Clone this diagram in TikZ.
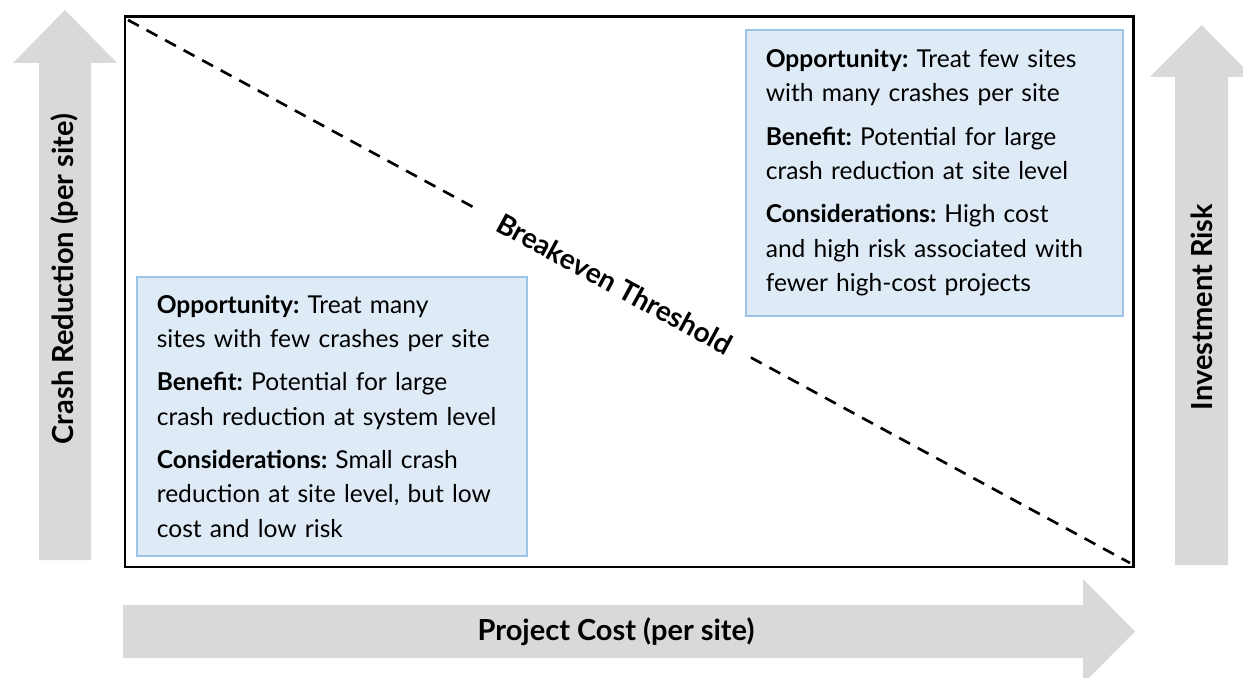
\documentclass[tikz,border=0pt]{standalone}
\usepackage{fontspec}
\setmainfont{Lato}
\usetikzlibrary{calc}
\frenchspacing

\definecolor{arrowgray}{HTML}{D9D9D9}
\definecolor{boxfill}{HTML}{DEEBF7}
\definecolor{boxline}{HTML}{9DC3E6}

\tikzset{
    infobox/.style={draw=boxline, line width=0.9pt, fill=boxfill, anchor=north west,
        align=left, inner xsep=0.4cm, font=\fontsize{14}{19.6}\selectfont},
    axislabel/.style={font=\bfseries\fontsize{16.5}{19}\selectfont},
    threshold/.style={dash pattern=on 7pt off 5pt, line width=1.5pt},
}

\begin{document}
\begin{tikzpicture}[x=0.02cm, y=-0.02cm]
    % Page size (pixel grid)
    \useasboundingbox (0, 0) rectangle (1243, 678);
    \clip (0, 0) rectangle (1243, 678);

    % Big arrows
    \fill[arrowgray] (39, 560) -- (39, 63) -- (13, 63) -- (65, 10) -- (117, 63) -- (91, 63) -- (91, 560) -- cycle;
    \fill[arrowgray] (1175, 565) -- (1175, 77) -- (1150, 77) -- (1201.5, 25) -- (1253, 77) -- (1228, 77) -- (1228, 565) -- cycle;
    \fill[arrowgray] (123, 605) -- (1083, 605) -- (1083, 579) -- (1135, 631.5) -- (1083, 684) -- (1083, 658) -- (123, 658) -- cycle;

    % Arrow labels
    \node[axislabel, rotate=90] (benefit) at (65, 279) {Crash Reduction (per site)};
    \node[axislabel, rotate=90] (risk) at (1201.5, 307) {Investment Risk};
    \node[axislabel] (cost) at (616, 631.5) {Project Cost (per site)};

    % Frame
    \draw[line width=1.7pt] (125, 17) rectangle (1133, 567);

    % Breakeven line
    \coordinate (tl) at (128, 20);
    \coordinate (br) at (1130, 563);
    \node[axislabel, font=\bfseries\fontsize{16}{19}\selectfont, rotate=-28.45, inner xsep=0.45cm] (breakeven) at ($(tl)!0.486!(br)$) {Breakeven Threshold};
    \draw[threshold] (tl) -- (breakeven.west);
    \draw[threshold] (breakeven.east) -- (br);

    % High cost corner
    \node[infobox, text width=6.74cm, minimum height=5.72cm] (fewsites) at (745, 29) {%
        \textbf{Opportunity:} Treat few sites\\
        with many crashes per site\\[5pt]
        \textbf{Benefit:} Potential for large\\
        crash reduction at site level\\[5pt]
        \textbf{Considerations:} High cost\\
        and high risk associated with\\
        fewer high-cost projects};

    % Low cost corner
    \node[infobox, text width=7.0cm, minimum height=5.58cm] (manysites) at (136, 276) {%
        \textbf{Opportunity:} Treat many\\
        sites with few crashes per site\\[5pt]
        \textbf{Benefit:} Potential for large\\
        crash reduction at system level\\[5pt]
        \textbf{Considerations:} Small crash\\
        reduction at site level, but low\\
        cost and low risk};
\end{tikzpicture}
\end{document}
